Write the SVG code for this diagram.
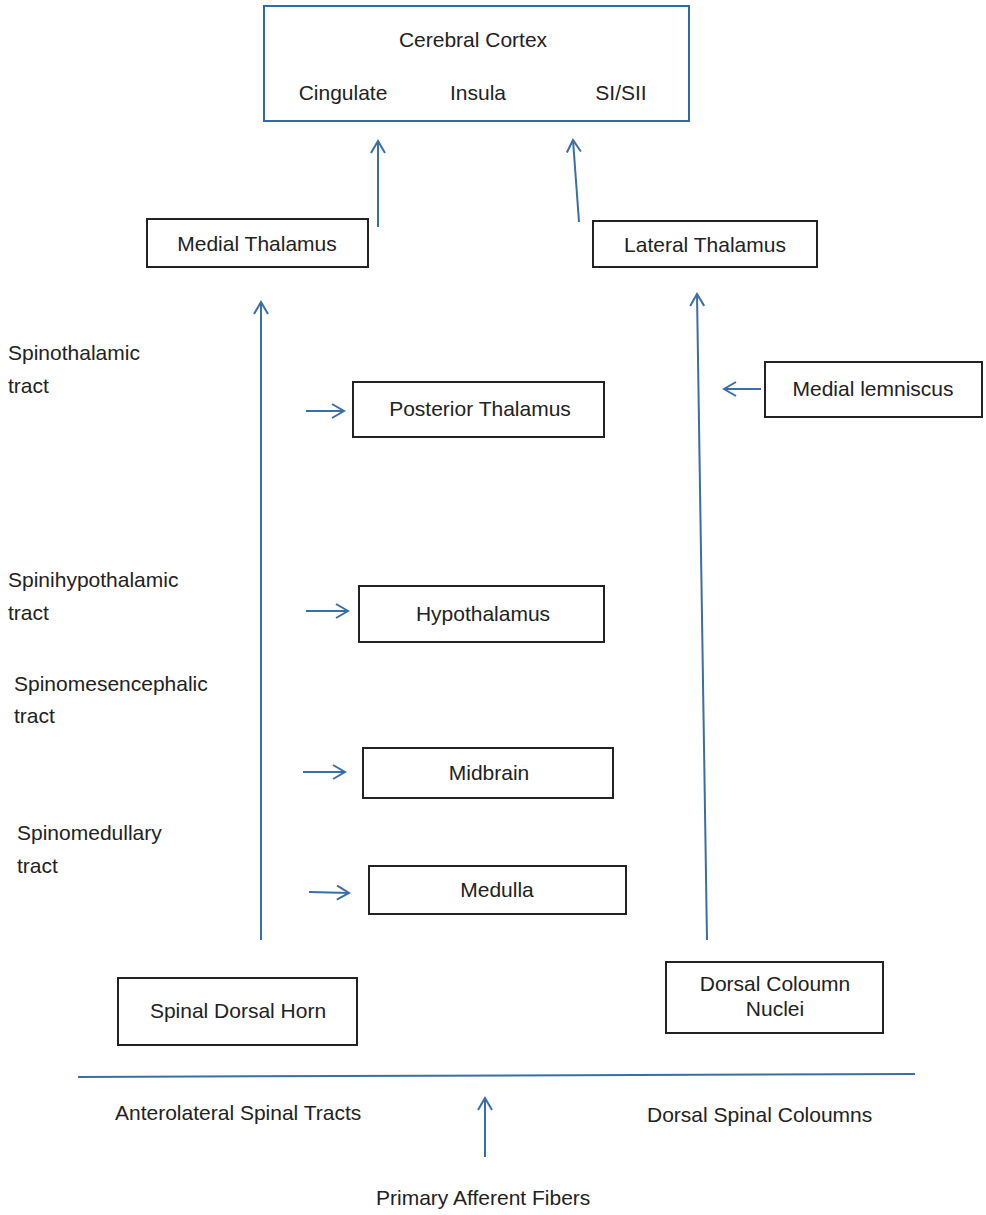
<svg xmlns="http://www.w3.org/2000/svg" width="986" height="1215" viewBox="0 0 986 1215">
<style>
text{font-family:"Liberation Sans",Arial,sans-serif;font-size:21px;fill:#222}
.box{fill:#fff;stroke:#222;stroke-width:2}
.c{text-anchor:middle}
.ln{stroke:#3b6ea3;stroke-width:2;fill:none}
</style>
<defs>
<marker id="ah" markerUnits="userSpaceOnUse" markerWidth="20" markerHeight="20" viewBox="0 0 20 20" refX="16" refY="10" orient="auto">
<path d="M4,3 L16,10 L4,17" fill="none" stroke="#3b6ea3" stroke-width="2"/>
</marker>
</defs>
<rect width="986" height="1215" fill="#fff"/>
<g id="cortex">
<rect x="264" y="6" width="425" height="115" fill="#fff" stroke="#2f6aa8" stroke-width="2"/>
<text x="473" y="47" class="c">Cerebral Cortex</text>
<text x="343" y="100" class="c">Cingulate</text>
<text x="478" y="100" class="c">Insula</text>
<text x="621" y="100" class="c">SI/SII</text>
</g>
<g id="medial-thalamus">
<rect x="147" y="219" width="221" height="48" class="box"/>
<text x="257" y="251" class="c">Medial Thalamus</text>
</g>
<g id="lateral-thalamus">
<rect x="593" y="221" width="224" height="46" class="box"/>
<text x="705" y="252" class="c">Lateral Thalamus</text>
</g>
<g id="posterior-thalamus">
<rect x="353" y="382" width="251" height="55" class="box"/>
<text x="480" y="416" class="c">Posterior Thalamus</text>
</g>
<g id="medial-lemniscus">
<rect x="765" y="362" width="217" height="55" class="box"/>
<text x="873" y="396" class="c">Medial lemniscus</text>
</g>
<g id="hypothalamus">
<rect x="359" y="586" width="245" height="56" class="box"/>
<text x="483" y="621" class="c">Hypothalamus</text>
</g>
<g id="midbrain">
<rect x="363" y="748" width="250" height="50" class="box"/>
<text x="489" y="780" class="c">Midbrain</text>
</g>
<g id="medulla">
<rect x="369" y="866" width="257" height="48" class="box"/>
<text x="497" y="897" class="c">Medulla</text>
</g>
<g id="spinal-dorsal-horn">
<rect x="118" y="978" width="239" height="67" class="box"/>
<text x="238" y="1018" class="c">Spinal Dorsal Horn</text>
</g>
<g id="dorsal-column-nuclei">
<rect x="666" y="962" width="217" height="71" class="box"/>
<text x="775" y="991" class="c">Dorsal Coloumn</text>
<text x="775" y="1016" class="c">Nuclei</text>
</g>
<g id="labels">
<text x="8" y="360">Spinothalamic</text>
<text x="8" y="393">tract</text>
<text x="8" y="587">Spinihypothalamic</text>
<text x="8" y="620">tract</text>
<text x="14" y="691">Spinomesencephalic</text>
<text x="14" y="723">tract</text>
<text x="17" y="840">Spinomedullary</text>
<text x="17" y="873">tract</text>
<text x="115" y="1120">Anterolateral Spinal Tracts</text>
<text x="647" y="1122">Dorsal Spinal Coloumns</text>
<text x="376" y="1205">Primary Afferent Fibers</text>
</g>
<g id="connectors">
<line x1="378" y1="227" x2="378" y2="141" class="ln" stroke-width="3" marker-end="url(#ah)"/>
<line x1="579" y1="222" x2="573" y2="140" class="ln" marker-end="url(#ah)"/>
<line x1="261" y1="940" x2="261" y2="302" class="ln" marker-end="url(#ah)"/>
<line x1="707" y1="940" x2="697" y2="294" class="ln" marker-end="url(#ah)"/>
<line x1="306" y1="411" x2="344" y2="411" class="ln" marker-end="url(#ah)"/>
<line x1="761" y1="389" x2="724" y2="389" class="ln" marker-end="url(#ah)"/>
<line x1="306" y1="611" x2="348" y2="611" class="ln" marker-end="url(#ah)"/>
<line x1="303" y1="772" x2="345" y2="772" class="ln" marker-end="url(#ah)"/>
<line x1="309" y1="892" x2="349" y2="893" class="ln" marker-end="url(#ah)"/>
<line x1="78" y1="1077" x2="915" y2="1074" class="ln" stroke-width="2.5"/>
<line x1="485" y1="1157" x2="485" y2="1098" class="ln" marker-end="url(#ah)"/>
</g>
</svg>
